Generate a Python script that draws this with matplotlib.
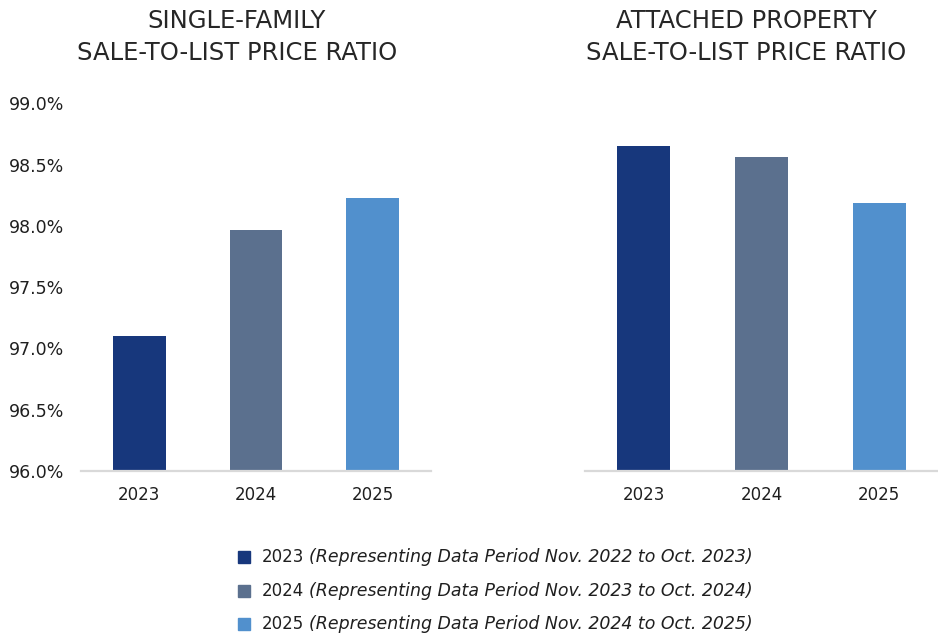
import matplotlib
matplotlib.use("Agg")
import matplotlib.pyplot as plt
from matplotlib.patches import Rectangle

plt.rcParams['font.family'] = ['DejaVu Sans']

years = ["2023", "2024", "2025"]
single_family = [97.10, 97.97, 98.23]
attached = [98.65, 98.56, 98.19]
colors = ["#17377C", "#5B708E", "#5190CD"]
yticks = [96.0, 96.5, 97.0, 97.5, 98.0, 98.5, 99.0]
titles = ["SINGLE-FAMILY\nSALE-TO-LIST PRICE RATIO",
          "ATTACHED PROPERTY\nSALE-TO-LIST PRICE RATIO"]
legend_years = ["2023", "2024", "2025"]
legend_periods = ["(Representing Data Period Nov. 2022 to Oct. 2023)",
                  "(Representing Data Period Nov. 2023 to Oct. 2024)",
                  "(Representing Data Period Nov. 2024 to Oct. 2025)"]

W, H = 938, 635
fig = plt.figure(figsize=(W / 100, H / 100), dpi=100)

def fx(px):
    return px / W

def fy(py):
    return 1 - py / H

base_y = 471
top_y = 103.3
ax1 = fig.add_axes([fx(81), fy(base_y), fx(350), (base_y - top_y) / H])
ax2 = fig.add_axes([fx(585), fy(base_y), fx(353), (base_y - top_y) / H])

text_color = "#1f1f1f"
for ax, vals, title, cx in [(ax1, single_family, titles[0], 237),
                             (ax2, attached, titles[1], 746)]:
    x = list(range(len(years)))
    ax.bar(x, [v - 96.0 for v in vals], bottom=96.0, width=0.45,
           color=colors, zorder=2)
    ax.set_xlim(-0.5, 2.5)
    ax.set_ylim(96.0, 99.0)
    ax.set_xticks(x)
    ax.set_xticklabels(years, fontsize=12, color=text_color)
    ax.tick_params(axis='x', length=0, pad=11)
    for s in ["top", "right", "left"]:
        ax.spines[s].set_visible(False)
    ax.spines["bottom"].set_color("#d9d9d9")
    ax.spines["bottom"].set_linewidth(1.6)
    ax.set_facecolor("none")
    fig.text(fx(cx), fy(37), title, ha="center", va="center",
             fontsize=17.5, color="#262626", linespacing=1.38)

ax1.set_yticks(yticks)
ax1.set_yticklabels([f"{v:.1f}%" for v in yticks], fontsize=12.5, color=text_color)
ax1.tick_params(axis='y', length=0, pad=12)
ax2.set_yticks([])

# Legend (manual, mixed regular / italic)
renderer = fig.canvas.get_renderer()
row_y = [557, 591, 624]
for yr, period, col, ry in zip(legend_years, legend_periods, colors, row_y):
    fig.patches.append(Rectangle((fx(238), fy(ry + 6)), fx(12), 12 / H,
                                 transform=fig.transFigure, color=col,
                                 figure=fig))
    t = fig.text(fx(262), fy(ry), yr, ha="left", va="center",
                 fontsize=12, color=text_color)
    bb = t.get_window_extent(renderer=renderer)
    fig.text(fx(bb.x1 + 5), fy(ry), period, ha="left", va="center",
             fontsize=12.5, color=text_color, style="italic")

fig.savefig("out.png", dpi=100, facecolor="white")
